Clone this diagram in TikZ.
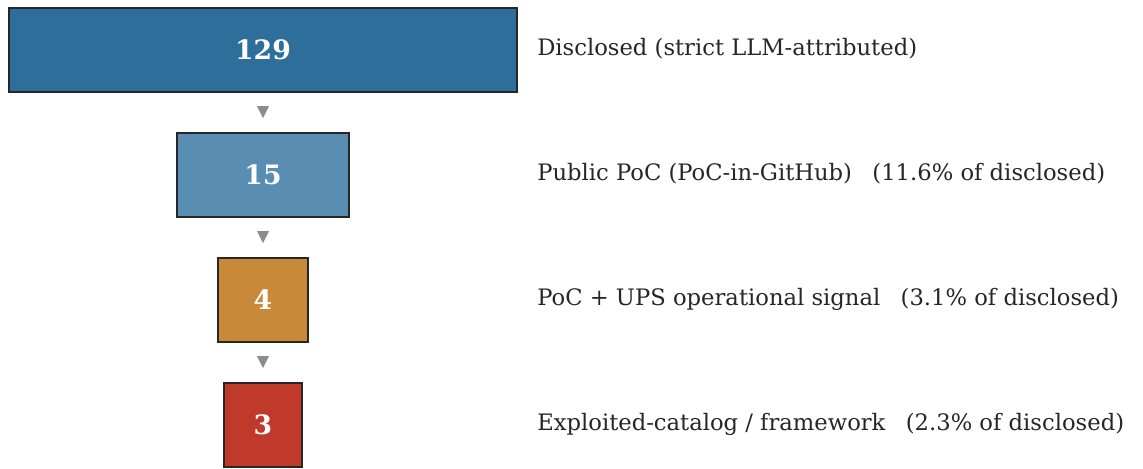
\documentclass[tikz,border=0pt]{standalone}
\usepackage{fontspec}
\setmainfont{DejaVu Serif}
\usetikzlibrary{shapes.geometric}

\definecolor{stageA}{HTML}{2E6E9A}
\definecolor{stageB}{HTML}{5A8DB2}
\definecolor{stageC}{HTML}{C88A38}
\definecolor{stageD}{HTML}{C0392B}

\tikzset{
  stage/.style={draw=black!85, line width=0.9pt, minimum height=63pt, inner sep=0pt,
    text=white, font=\fontsize{20}{24}\selectfont\bfseries},
  caption/.style={anchor=west, inner sep=0pt, text=black!85, font=\fontsize{17}{20}\selectfont},
  downtri/.style={isosceles triangle, shape border rotate=270, isosceles triangle apex angle=55,
    isosceles triangle stretches, fill=gray!90, inner sep=0pt, minimum height=9pt, minimum width=9pt}
}

\begin{document}
\begin{tikzpicture}[x=0.75pt, y=-0.75pt]
        \useasboundingbox (0,0) rectangle (1143,468);

        % funnel stages, widths follow the counts
        \node[stage, fill=stageA, minimum width=381pt] (s1) at (263,50) {129};
        \node[stage, fill=stageB, minimum width=129pt] (s2) at (263,175) {15};
        \node[stage, fill=stageC, minimum width=67.5pt] (s3) at (263,300) {4};
        \node[stage, fill=stageD, minimum width=58.5pt] (s4) at (263,425) {3};

        \node[caption] (c1) at (537,49) {Disclosed (strict LLM-attributed)};
        \node[caption] (c2) at (537,174) {Public PoC (PoC-in-GitHub)\hspace{0.9em}(11.6\% of disclosed)};
        \node[caption] (c3) at (537,299) {PoC + UPS operational signal\hspace{0.9em}(3.1\% of disclosed)};
        \node[caption] (c4) at (537,424) {Exploited-catalog / framework\hspace{0.9em}(2.3\% of disclosed)};

        \path (s1.south) -- (s2.north) node[downtri, pos=0.43] (t1) {};
        \path (s2.south) -- (s3.north) node[downtri, pos=0.43] (t2) {};
        \path (s3.south) -- (s4.north) node[downtri, pos=0.43] (t3) {};
        % \draw (s3) -- (s4);
\end{tikzpicture}
\end{document}
